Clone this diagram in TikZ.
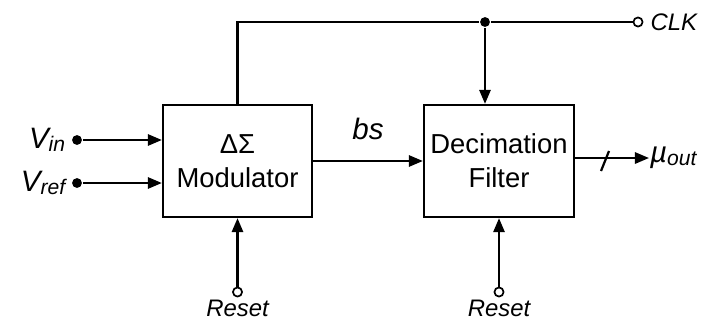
\documentclass[tikz,border=0pt]{standalone}
\usepackage{fontspec}
\setmainfont{Liberation Sans}
\usetikzlibrary{arrows.meta}
\usetikzlibrary{positioning}

\newcommand{\blkfont}{\fontsize{19.5}{24}\selectfont}
\newcommand{\pinfont}{\fontsize{17}{18}\selectfont\itshape}
\newcommand{\bigpin}[2]{{\fontsize{21}{22}\selectfont\itshape #1\raisebox{-0.15ex}{\fontsize{15}{15}\selectfont #2}}}

\tikzset{
  block/.style={draw,rectangle,align=center,font=\blkfont},
  dot/.style={circle,fill=black,inner sep=0pt,minimum size=7pt},
  port/.style={circle,draw,fill=white,inner sep=0pt,minimum size=6.5pt,line width=1.2pt}
}

\begin{document}
\begin{tikzpicture}[x=0.025cm,y=-0.025cm,line width=1.6pt,every path/.style={>={Triangle[length=10pt,width=8pt]}}]
		\useasboundingbox (0,0) rectangle (707,324);

		% draw blocks
		\node (MOD) at (237.5,161) [block,minimum width=3.725cm,minimum height=2.8cm] {ΔΣ\\Modulator};
		\node (DEC) at (499,161) [block,minimum width=3.75cm,minimum height=2.8cm] {Decimation\\Filter};

		% draw input pins
		\node (Din) at (77,140) [dot] {};
		\node (Dref) at (77,183) [dot] {};
		\node[left=0pt of Din] (Lin) {\bigpin{V}{in}};
		\node[left=0pt of Dref] (Lref) {\bigpin{V}{ref}};

		% draw lines from input pins to modulator
		\draw[->] (Din) to (Din -| MOD.west);
		\draw[->] (Dref) to (Dref -| MOD.west);

		% draw bitstream
		\draw[->] (MOD.east) to (DEC.west);
		\node (Lbs) at (368,130) {\bigpin{bs}{}};

		% draw clock line
		\coordinate (T1) at (MOD.north |- 0,22);
		\node (Dclk) at (485,22) [dot] {};
		\node (Cclk) at (638,22) [port] {};
		\node[right=1pt of Cclk,font=\pinfont] (Lclk) {CLK};
		\draw (MOD.north) to (T1) to (Dclk) to (Cclk);
		\draw[->] (Dclk) to (Dclk |- DEC.north);

		% draw output
		\node (MU) at (649,158) [anchor=west,inner sep=0pt] {\bigpin{µ}{out}};
		\coordinate (S1) at (605,161);
		\draw[->] (DEC.east |- MU.west) to (MU.west);
		\draw ([shift={(-4,10)}]S1) to ([shift={(4,-10)}]S1);

		% draw reset pins
		\node (R1) at (MOD.south |- 0,292) [port] {};
		\node (R2) at (DEC.south |- 0,292) [port] {};
		\node[below=-2pt of R1,font=\pinfont] (LR1) {Reset};
		\node[below=-2pt of R2,font=\pinfont] (LR2) {Reset};
		\draw[->] (R1) to (MOD.south);
		\draw[->] (R2) to (DEC.south);
	\end{tikzpicture}
\end{document}
